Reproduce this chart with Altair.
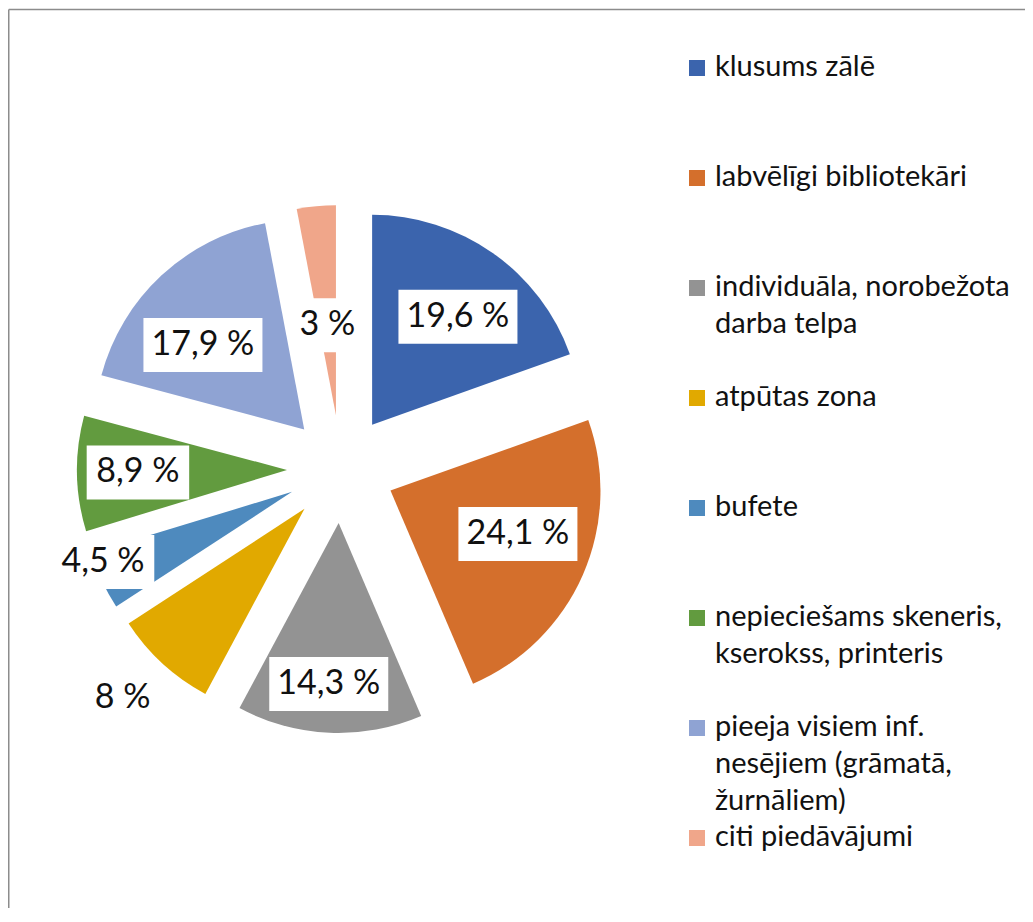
import altair as alt
import pandas as pd

# ---- data ----
categories = [
    "klusums zālē",
    "labvēlīgi bibliotekāri",
    "individuāla, norobežota darba telpa",
    "atpūtas zona",
    "bufete",
    "nepieciešams skeneris, kserokss, printeris",
    "pieeja visiem inf. nesējiem (grāmatā, žurnāliem)",
    "citi piedāvājumi",
]
legend_text = [
    "klusums zālē",
    "labvēlīgi bibliotekāri",
    "individuāla, norobežota\ndarba telpa",
    "atpūtas zona",
    "bufete",
    "nepieciešams skeneris,\nkserokss, printeris",
    "pieeja visiem inf.\nnesējiem (grāmatā,\nžurnāliem)",
    "citi piedāvājumi",
]
values = [19.6, 24.1, 14.3, 8, 4.5, 8.9, 17.9, 3]

# ---- styling / layout ----
colors = ["#3B64AD", "#D46F2C", "#939393", "#E1A900", "#4E8ABE", "#629B3F", "#8FA3D3", "#F0A68A"]
label_radius = [0.657, 0.641, 0.768, 1.25, 0.96, 0.71, 0.628, 0.43]  # best-fit label distance (fraction of R)
label_turn = [3.3, -4.8, 1.0, 1.3, 4.7, 0.0, -7.3, 0.0]              # best-fit label angle shift (degrees)

CX, CY = 333, 461      # pie centre (plot coords)
R = 210                # pie radius
EXPLODE = 54           # explosion distance
FONT = "Lato"

df = pd.DataFrame({
    "idx": list(range(len(categories))),
    "category": categories,
    "leg": legend_text,
    "value": values,
    "lr": label_radius,
    "lt": label_turn,
})

color = alt.Color("category:N", scale=alt.Scale(domain=categories, range=colors), legend=None)

base = (
    alt.Chart(df)
    .transform_joinaggregate(total="sum(value)")
    .transform_window(cum="sum(value)", sort=[alt.SortField("idx")], frame=[None, 0])
    .transform_calculate(a0="(datum.cum - datum.value) / datum.total * 2 * PI")
    .transform_calculate(a1="datum.cum / datum.total * 2 * PI")
    .transform_calculate(mid="(datum.a0 + datum.a1) / 2")
    .transform_calculate(la="datum.mid + datum.lt * PI / 180")
    .transform_calculate(cx=f"{CX} + {EXPLODE} * sin(datum.mid)")
    .transform_calculate(cy=f"{CY} - {EXPLODE} * cos(datum.mid)")
    .transform_calculate(lx=f"datum.cx + datum.lr * {R} * sin(datum.la)")
    .transform_calculate(ly=f"datum.cy - datum.lr * {R} * cos(datum.la)")
    .transform_calculate(label="replace(format(datum.value, '.1~f'), '.', ',') + ' %'")
    .transform_calculate(bw="16.5 * length(datum.label) + 20")
    .transform_calculate(bx0="datum.lx - datum.bw / 2", bx1="datum.lx + datum.bw / 2")
    .transform_calculate(by0="datum.ly - 27", by1="datum.ly + 27")
)

arcs = base.mark_arc(radius=R).encode(
    theta=alt.Theta("a0:Q", scale=None),
    theta2="a1:Q",
    x=alt.X("cx:Q", scale=None),
    y=alt.Y("cy:Q", scale=None),
    color=color,
)

boxes = base.mark_rect(color="white").encode(
    x=alt.X("bx0:Q", scale=None),
    x2="bx1:Q",
    y=alt.Y("by0:Q", scale=None),
    y2="by1:Q",
)

labels = base.mark_text(font=FONT, fontSize=34, color="#111111", align="center", baseline="middle").encode(
    x=alt.X("lx:Q", scale=None),
    y=alt.Y("ly:Q", scale=None),
    text="label:N",
)

leg_base = (
    alt.Chart(df)
    .transform_calculate(sy="60 + 110 * datum.idx")
    .transform_calculate(ty="datum.sy + 8")
    .transform_calculate(lines="split(datum.leg, '\\n')")
)

leg_sq = leg_base.mark_square(size=256, opacity=1).encode(
    x=alt.value(689),
    y=alt.Y("sy:Q", scale=None),
    color=color,
)

leg_txt = leg_base.mark_text(
    font=FONT, fontSize=29, lineHeight=37, align="left", baseline="alphabetic", color="#111111"
).encode(
    x=alt.value(707),
    y=alt.Y("ty:Q", scale=None),
    text="lines:N",
)

frame_df = pd.DataFrame({"k": [0]})
top_line = alt.Chart(frame_df).mark_rule(color="#8C8C8C", strokeWidth=1.5).encode(
    y=alt.value(1.5), x=alt.value(0.75), x2=alt.value(1017)
)
left_line = alt.Chart(frame_df).mark_rule(color="#8C8C8C", strokeWidth=1.5).encode(
    x=alt.value(0.75), y=alt.value(1.5), y2=alt.value(900)
)

chart = (
    alt.layer(top_line, left_line, arcs, boxes, labels, leg_sq, leg_txt)
    .properties(width=1017, height=900, padding=0, autosize="none", background="white")
    .configure_view(strokeWidth=0)
)

chart.save("out.html", embed_options={"renderer": "svg", "actions": False})
